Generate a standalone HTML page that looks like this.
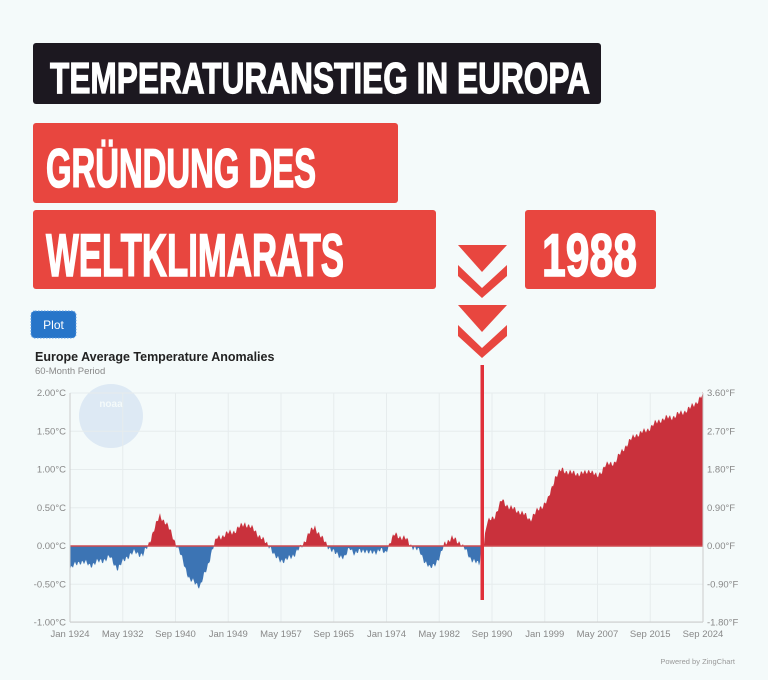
<!DOCTYPE html>
<html><head><meta charset="utf-8">
<style>
html,body{margin:0;padding:0;background:#f4fafa;}
svg{display:block;}
</style></head>
<body>
<svg id="s" width="768" height="680" viewBox="0 0 768 680" xmlns="http://www.w3.org/2000/svg" font-family="'Liberation Sans', sans-serif">
<rect width="768" height="680" fill="#f4fafa"/>
<!-- headers -->
<rect x="33" y="43" width="568" height="61" rx="3" fill="#1c1820"/>
<text x="50" y="93" font-size="44" font-weight="bold" fill="#fff" stroke="#fff" stroke-width="1.2" textLength="540" lengthAdjust="spacingAndGlyphs">TEMPERATURANSTIEG IN EUROPA</text>
<rect x="33" y="123" width="365" height="80" rx="3" fill="#e8463f"/>
<text x="46" y="187" font-size="55" font-weight="bold" fill="#fff" stroke="#fff" stroke-width="1.5" textLength="270" lengthAdjust="spacingAndGlyphs">GRÜNDUNG DES</text>
<rect x="33" y="210" width="403" height="79" rx="3" fill="#e8463f"/>
<text x="46" y="276" font-size="60" font-weight="bold" fill="#fff" stroke="#fff" stroke-width="1.5" textLength="298" lengthAdjust="spacingAndGlyphs">WELTKLIMARATS</text>
<rect x="525" y="210" width="131" height="79" rx="3" fill="#e8463f"/>
<text x="542" y="276" font-size="60" font-weight="bold" fill="#fff" stroke="#fff" stroke-width="1.5" textLength="95" lengthAdjust="spacingAndGlyphs">1988</text>
<!-- chevrons -->
<g fill="#e8463f">
<polygon points="458,245 507,245 482,272"/>
<polygon points="458,265 482,288 507,265 507,276 482,298 458,276"/>
<polygon points="458,305 507,305 482,332"/>
<polygon points="458,325 482,348 507,325 507,336 482,358 458,336"/>
</g>
<!-- plot button -->
<rect x="31" y="311" width="45" height="27" rx="4" fill="#2775c9" stroke="#5b9ae0" stroke-dasharray="1.5 1.5"/>
<text x="53.5" y="329" font-size="12" fill="#fff" text-anchor="middle">Plot</text>
<text x="35" y="361" font-size="12.5" font-weight="bold" fill="#222">Europe Average Temperature Anomalies</text>
<text x="35" y="374" font-size="9.5" fill="#888">60-Month Period</text>
<!-- noaa watermark -->
<circle cx="111" cy="416" r="32" fill="#dde9f4"/>
<text x="111" y="407" font-size="10" font-weight="bold" fill="#f4fafa" text-anchor="middle">noaa</text>
<g id="grid" stroke="#e6eced" stroke-width="1"></g>
<g id="area"></g>
<line x1="70" y1="546" x2="703" y2="546" stroke="#cf4a4f" stroke-width="1.5"/>
<line x1="70" y1="393" x2="70" y2="622" stroke="#ccc"/>
<line x1="703" y1="393" x2="703" y2="622" stroke="#ccc"/>
<line x1="70" y1="622" x2="703" y2="622" stroke="#ccc"/>
<g id="lbl" font-size="9.5" fill="#888"></g>
<rect x="480.5" y="365" width="3.5" height="235" fill="#e0303a"/>
<text x="735" y="664" font-size="7.5" fill="#999" text-anchor="end">Powered by ZingChart</text>
</svg>
<script>
var ns="http://www.w3.org/2000/svg";
function el(p,t,a,txt){var e=document.createElementNS(ns,t);for(var k in a)e.setAttribute(k,a[k]);if(txt)e.textContent=txt;p.appendChild(e);return e;}
var g=document.getElementById('grid'),L=document.getElementById('lbl'),A=document.getElementById('area');
var Y=function(v){return 546-v*76.5;};
var yl=[["2.00°C","3.60°F",2],["1.50°C","2.70°F",1.5],["1.00°C","1.80°F",1],["0.50°C","0.90°F",0.5],["0.00°C","0.00°F",0],["-0.50°C","-0.90°F",-0.5],["-1.00°C","-1.80°F",-1]];
yl.forEach(function(r){var y=Y(r[2]);el(g,'line',{x1:70,x2:703,y1:y,y2:y});
el(L,'text',{x:66,y:y+3,'text-anchor':'end'},r[0]);el(L,'text',{x:707,y:y+3},r[1]);});
var xl=["Jan 1924","May 1932","Sep 1940","Jan 1949","May 1957","Sep 1965","Jan 1974","May 1982","Sep 1990","Jan 1999","May 2007","Sep 2015","Sep 2024"];
xl.forEach(function(t,i){var x=70+i*52.75;el(g,'line',{x1:x,x2:x,y1:393,y2:622});
el(L,'text',{x:x,y:637,'text-anchor':'middle'},t);});
var k=[[70,-0.3],[80,-0.2],[90,-0.25],[100,-0.2],[110,-0.15],[118,-0.3],[126,-0.15],[135,-0.08],[143,-0.12],[148,0],[152,0.15],[160,0.4],[166,0.3],[172,0.15],[177,0],[183,-0.2],[190,-0.45],[200,-0.52],[207,-0.3],[212,-0.05],[217,0.1],[225,0.15],[235,0.2],[245,0.3],[255,0.2],[265,0.05],[270,0],[275,-0.15],[285,-0.2],[295,-0.1],[302,0],[308,0.15],[315,0.25],[322,0.1],[328,0],[335,-0.1],[345,-0.15],[350,-0.02],[355,-0.1],[365,-0.05],[370,-0.1],[380,-0.05],[385,-0.1],[390,0.05],[395,0.15],[405,0.1],[412,0],[420,-0.08],[425,-0.2],[430,-0.3],[440,-0.15],[445,0.05],[452,0.1],[460,0.05],[465,-0.05],[470,-0.15],[479,-0.25],[483,0.0],[487,0.3],[495,0.4],[502,0.6],[510,0.5],[520,0.45],[530,0.35],[540,0.5],[548,0.6],[555,0.9],[562,1.0],[572,0.95],[585,0.95],[590,1.0],[597,0.9],[605,1.05],[615,1.1],[625,1.3],[635,1.45],[645,1.5],[660,1.65],[675,1.7],[690,1.8],[703,1.97]];
var pts=["70,546"];
for(var x=70;x<=703;x+=1){var j=0;while(j<k.length-2&&k[j+1][0]<x)j++;var a=k[j],b=k[j+1];var t=(x-a[0])/(b[0]-a[0]);t=Math.max(0,Math.min(1,t));
var v=a[1]+(b[1]-a[1])*t+0.03*Math.sin(x*1.7)+0.02*Math.sin(x*0.53);if(x>=481&&x<=484)v=Math.max(v,0)*0.3; pts.push(x+","+Y(v).toFixed(1));}
pts.push("703,546");
var d=el(A,'defs',{});
var c1=el(d,'clipPath',{id:'up'});el(c1,'rect',{x:0,y:0,width:768,height:546});
var c2=el(d,'clipPath',{id:'dn'});el(c2,'rect',{x:0,y:546,width:768,height:200});
el(A,'polygon',{points:pts.join(' '),fill:'#c9313c','clip-path':'url(#up)'});
el(A,'polygon',{points:pts.join(' '),fill:'#3c74b4','clip-path':'url(#dn)'});
</script>
</body></html>
